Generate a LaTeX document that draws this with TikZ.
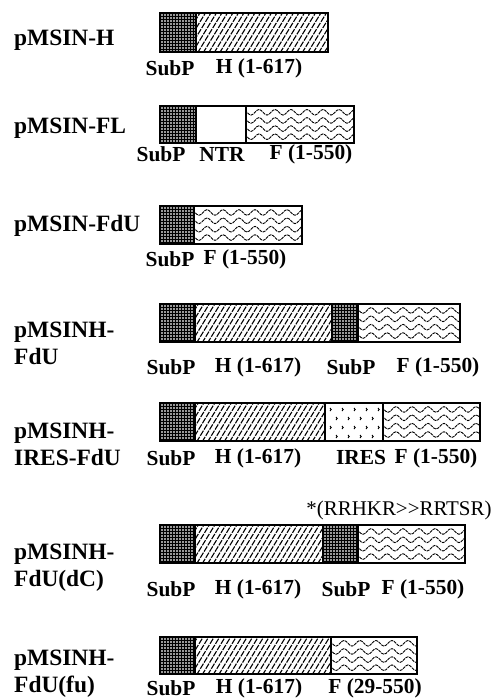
\documentclass[tikz,border=0pt]{standalone}
\usepackage{fontspec}
\setmainfont{Liberation Serif}
\usetikzlibrary{decorations.pathmorphing}
\tikzset{
  cname/.style={anchor=west, inner sep=0pt, align=left, font=\fontsize{23.5}{27}\selectfont\bfseries},
  lab/.style={inner sep=0pt, font=\fontsize{21.5}{24}\selectfont\bfseries},
  note/.style={inner sep=0pt, font=\fontsize{21}{24}\selectfont},
  outline/.style={draw=black, line width=1.8bp},
  divline/.style={draw=black, line width=1.4bp},
  hatch/.style={line width=1.1bp, dash pattern=on 6bp off 1.3bp},
  wave/.style={line width=0.9bp, dash pattern=on 3bp off 0.8bp, decorate, decoration={snake, amplitude=2.8bp, segment length=16bp}}
}
% SubP: dense dark crosshatch
\newcommand\segsubp[4]{%
  \begin{scope}
    \clip (#1,#2) rectangle (#3,#4);
    \fill[black!40] (#1,#2) rectangle (#3,#4);
    \foreach \k in {0,...,14} {\draw[line width=0.7bp] (#1+\k*3,#2-2) -- ++(0,50);}
    \foreach \k in {0,...,14} {\draw[line width=0.7bp] (#1-2,#2+\k*3) -- ++(60,0);}
  \end{scope}}
% H: diagonal hatching
\newcommand\segh[4]{%
  \begin{scope}
    \clip (#1,#2) rectangle (#3,#4);
    \foreach \k in {0,...,32} {\draw[hatch] (#1-26+\k*5.5,#4+1) -- ++(25,-41);}
  \end{scope}}
% F: wavy lines
\newcommand\segf[4]{%
  \begin{scope}
    \clip (#1,#2) rectangle (#3,#4);
    \foreach \f in {0.17,0.39,0.61,0.83} {\draw[wave] (#1-8,{#2+\f*(#4-#2)}) -- (#3+16,{#2+\f*(#4-#2)});}
  \end{scope}}
% IRES: sparse marks
\newcommand\segires[4]{%
  \begin{scope}
    \clip (#1,#2) rectangle (#3,#4);
    \foreach \r in {0,...,3} {
      \pgfmathsetmacro\off{mod(\r,2)*6}
      \foreach \c in {0,...,5} {\draw[line width=0.9bp] (#1+5+\off+\c*12,#2+5+\r*9) -- ++(1.2,1.5) -- ++(-1.2,1.5);}
    }
  \end{scope}}

\begin{document}
\begin{tikzpicture}[x=1bp, y=-1bp]
\useasboundingbox (0,0) rectangle (501,700);

% ---------- Row 1: pMSIN-H
\node[cname] (n1) at (14,40) {pMSIN-H};
\segsubp{160}{13}{196}{52}
\segh{196}{13}{328}{52}
\draw[divline] (196,13) -- (196,52);
\draw[outline] (160,13) rectangle (328,52);
\node[lab] (l1a) at (170,68) {SubP};
\node[lab] (l1b) at (259,68) {H (1-617)};

% ---------- Row 2: pMSIN-FL
\node[cname] (n2) at (14,128) {pMSIN-FL};
\segsubp{160}{106}{196}{143}
\segf{246}{106}{354}{143}
\draw[divline] (196,106) -- (196,143);
\draw[divline] (246,106) -- (246,143);
\draw[outline] (160,106) rectangle (354,143);
\node[lab] (l2a) at (161,154) {SubP};
\node[lab] (l2b) at (222,154) {NTR};
\node[lab] (l2c) at (311,154) {F (1-550)};

% ---------- Row 3: pMSIN-FdU
\node[cname] (n3) at (14,226) {pMSIN-FdU};
\segsubp{160}{206}{194}{244}
\segf{194}{206}{302}{244}
\draw[divline] (194,206) -- (194,244);
\draw[outline] (160,206) rectangle (302,244);
\node[lab] (l3a) at (170,259) {SubP};
\node[lab] (l3b) at (245,259) {F (1-550)};

% ---------- Row 4: pMSINH-FdU
\node[cname] (n4) at (14,343) {pMSINH-\\FdU};
\segsubp{160}{304}{195}{342}
\segh{195}{304}{332}{342}
\segsubp{332}{304}{358}{342}
\segf{358}{304}{460}{342}
\foreach \xx in {195,332,358} {\draw[divline] (\xx,304) -- (\xx,342);}
\draw[outline] (160,304) rectangle (460,342);
\node[lab] (l4a) at (171,367) {SubP};
\node[lab] (l4b) at (258,367) {H (1-617)};
\node[lab] (l4c) at (351,367) {SubP};
\node[lab] (l4d) at (438,367) {F (1-550)};

% ---------- Row 5: pMSINH-IRES-FdU
\node[cname] (n5) at (14,444) {pMSINH-\\IRES-FdU};
\segsubp{160}{403}{195}{441}
\segh{195}{403}{325}{441}
\segires{325}{403}{383}{441}
\segf{383}{403}{480}{441}
\foreach \xx in {195,325,383} {\draw[divline] (\xx,403) -- (\xx,441);}
\draw[outline] (160,403) rectangle (480,441);
\node[lab] (l5a) at (171,458) {SubP};
\node[lab] (l5b) at (258,458) {H (1-617)};
\node[lab] (l5c) at (361,458) {IRES};
\node[lab] (l5d) at (436,458) {F (1-550)};

% ---------- Row 6: pMSINH-FdU(dC)
\node[note] (a6) at (399,510) {*(RRHKR>{}>RRTSR)};
\node[cname] (n6) at (14,568) {pMSINH-\\FdU(dC)};
\segsubp{160}{525}{195}{563}
\segh{195}{525}{323}{563}
\segsubp{323}{525}{358}{563}
\segf{358}{525}{465}{563}
\foreach \xx in {195,323,358} {\draw[divline] (\xx,525) -- (\xx,563);}
\draw[outline] (160,525) rectangle (465,563);
\node[lab] (l6a) at (171,589) {SubP};
\node[lab] (l6b) at (258,589) {H (1-617)};
\node[lab] (l6c) at (346,589) {SubP};
\node[lab] (l6d) at (423,589) {F (1-550)};

% ---------- Row 7: pMSINH-FdU(fu)
\node[cname] (n7) at (14,674) {pMSINH-\\FdU(fu)};
\segsubp{160}{637}{195}{674}
\segh{195}{637}{331}{674}
\segf{331}{637}{417}{674}
\foreach \xx in {195,331} {\draw[divline] (\xx,637) -- (\xx,674);}
\draw[outline] (160,637) rectangle (417,674);
\node[lab] (l7a) at (171,688) {SubP};
\node[lab] (l7b) at (259,688) {H (1-617)};
\node[lab] (l7c) at (375,688) {F (29-550)};
\end{tikzpicture}
\end{document}
